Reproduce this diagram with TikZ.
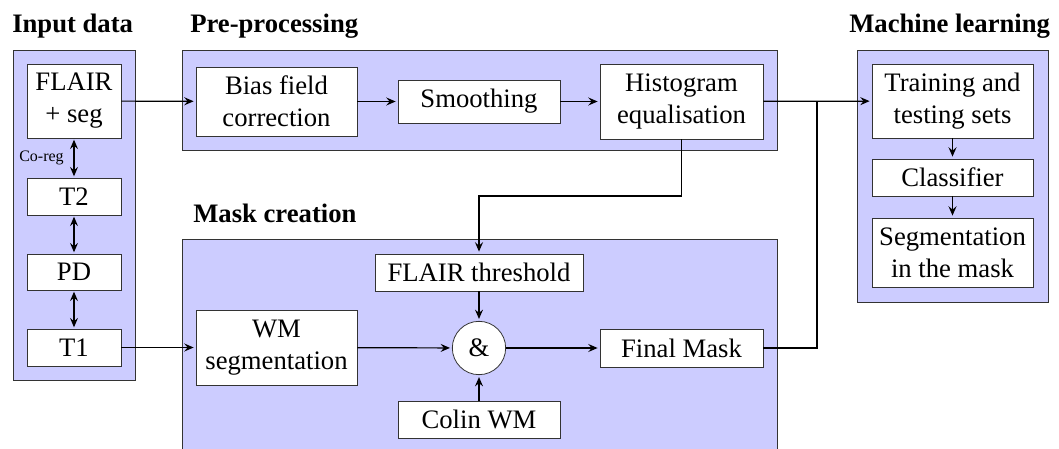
\documentclass[tikz,border=0pt]{standalone}
\usepackage{fontspec}
\setmainfont{LiberationSerif}[Extension=.ttf, UprightFont=*-Regular, BoldFont=*-Bold, ItalicFont=*-Italic, BoldItalicFont=*-BoldItalic]
\usetikzlibrary{arrows.meta}
\tikzset{
  panel/.style={draw=black!80, fill=blue!20, line width=0.6pt},
  bx/.style 2 args={draw=black!80, fill=white, line width=0.6pt, inner sep=0pt, align=center,
     minimum width=#1*0.75pt, minimum height=#2*0.75pt, font=\fontsize{20}{24}\selectfont},
  ttl/.style={anchor=base west, inner sep=0pt, font=\fontsize{20}{24}\selectfont\bfseries},
  tip/.style={},
  conn/.style={line width=0.9pt, -{Stealth[length=7pt,width=6pt,inset=2.5pt]}, shorten >=1.5pt},
  dconn/.style={line width=0.9pt, {Stealth[length=7pt,width=6pt,inset=2.5pt]}-{Stealth[length=7pt,width=6pt,inset=2.5pt]}, shorten >=1pt, shorten <=1pt},
  thk/.style={line width=1.6pt},
}
\begin{document}
\begin{tikzpicture}[x=0.75pt,y=-0.75pt]
\clip (0,0) rectangle (1059,449);
\fill[white] (0,0) rectangle (1059,449);
% panels
\draw[panel] (13,50) rectangle (135,380);
\draw[panel] (182,50) rectangle (777,150);
\draw[panel] (182,239) rectangle (777,470);
\draw[panel] (857,50) rectangle (1048,302);
% titles
\node[ttl] (tin) at (12,33) {Input data};
\node[ttl] (tpre) at (190,33) {Pre-processing};
\node[ttl] (tml) at (849,33) {Machine learning};
\node[ttl] (tmask) at (193,222) {Mask creation};
% input boxes
\node[bx={94}{74}] (flair) at (74,101) {FLAIR\\+ seg};
\node[bx={94}{37}] (t2) at (74,196.5) {T2};
\node[bx={94}{36}] (pd) at (74,272) {PD};
\node[bx={94}{37}] (t1) at (74,347.5) {T1};
\node[anchor=east, inner sep=0pt, font=\fontsize{12}{14}\selectfont] (coreg) at (64,158) {Co-reg};
% pre-processing
\node[bx={161}{69}] (bias) at (276.5,101.5) {Bias field\\correction};
\node[bx={162}{43}] (smooth) at (479,101.5) {Smoothing};
\node[bx={163}{75}] (hist) at (681.5,101.5) {Histogram\\equalisation};
% machine learning
\node[bx={161}{74}] (train) at (952.5,101) {Training and\\testing sets};
\node[bx={161}{37}] (clf) at (952.5,177.5) {Classifier};
\node[bx={161}{69}] (segm) at (952.5,252.5) {Segmentation\\in the mask};
% mask creation
\node[bx={208}{37}] (fth) at (479,272.5) {FLAIR threshold};
\node[draw=black!80, fill=white, line width=0.6pt, circle, inner sep=0pt, minimum size=40pt, font=\fontsize{20}{24}\selectfont] (and) at (479,348) {\&};
\node[bx={163}{38}] (final) at (681.5,348) {Final Mask};
\node[bx={161}{75}] (wm) at (276.5,347.5) {WM\\segmentation};
\node[bx={162}{37}] (colin) at (479,419.5) {Colin WM};
% connectors
\draw[dconn] (flair) -- (t2);
\draw[dconn] (t2) -- (pd);
\draw[dconn] (pd) -- (t1);
\draw[conn] (flair) -- (bias);
\draw[conn] (bias) -- (smooth);
\draw[conn] (smooth) -- (hist);
\draw[conn] (hist) -- (train);
\draw[conn] (train) -- (clf);
\draw[conn] (clf) -- (segm);
\coordinate (hb) at (681.5,196);
\coordinate (hl) at (479,196);
\draw[conn] (hist.south) -- (hb) -- (hl) -- (fth.north);
\draw[conn] (fth) -- (and);
\draw[conn] (colin) -- (and);
\draw[conn] (wm) -- (and);
\draw[conn] (and) -- (final);
\draw[conn] (t1) -- (wm);
\coordinate (jr) at (817,348);
\coordinate (jt) at (817,101.5);
\draw[thk] (final.east) -- (jr) -- (jt);
\end{tikzpicture}
\end{document}
